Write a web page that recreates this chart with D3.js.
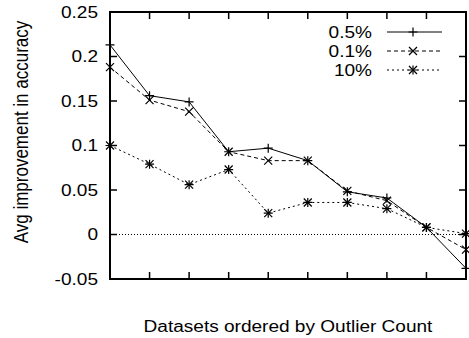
<!DOCTYPE html>
<html>
<head>
<meta charset="utf-8">
<script src="https://cdn.jsdelivr.net/npm/d3@7"></script>
<style>
body{margin:0;background:#fff;}
svg text{font-family:"Liberation Sans",Arial,sans-serif;fill:#000;}
</style>
</head>
<body>
<script>
// data
var datasets = [1,2,3,4,5,6,7,8,9,10];
var seriesNames = ['0.5%','0.1%','10%'];
var v05 = [0.213,0.156,0.149,0.093,0.097,0.083,0.048,0.041,0.008,-0.038];
var v01 = [0.188,0.151,0.138,0.093,0.083,0.083,0.049,0.038,0.008,-0.017];
var v10 = [0.100,0.079,0.056,0.073,0.024,0.036,0.036,0.029,0.008,0.001];
var yTicks = [-0.05,0,0.05,0.1,0.15,0.2,0.25];

var W = 469, H = 338;
var m = {left:110, right:3, top:12, bottom:59};
var sx = 1.19; // text looks stretched sideways in the original

var svg = d3.select('body').append('svg').attr('width',W).attr('height',H);

var x = d3.scaleLinear().domain([1,10]).range([m.left, W-m.right]);
var y = d3.scaleLinear().domain([-0.05,0.25]).range([H-m.bottom, m.top]);

function label(px, py, txt, anchor){
	return svg.append('text')
		.attr('transform','translate('+px+','+py+') scale('+sx+',1)')
		.attr('text-anchor',anchor)
		.attr('font-size',16)
		.text(txt);
}

//zero line
svg.append('line')
	.attr('x1',x(1)).attr('x2',x(10))
	.attr('y1',y(0)).attr('y2',y(0))
	.attr('stroke','#000').attr('stroke-width',1)
	.attr('stroke-dasharray','1,2');

//ticks, all inward
var tk = 7;
var g = svg.append('g');
yTicks.forEach(function(t){
	g.append('line').attr('x1',x(1)).attr('x2',x(1)+tk).attr('y1',y(t)).attr('y2',y(t));
	g.append('line').attr('x1',x(10)).attr('x2',x(10)-tk).attr('y1',y(t)).attr('y2',y(t));
	label(98, y(t), String(t), 'end').attr('dy','0.35em');
});
datasets.forEach(function(d){
	g.append('line').attr('x1',x(d)).attr('x2',x(d)).attr('y1',y(-0.05)).attr('y2',y(-0.05)-tk);
	g.append('line').attr('x1',x(d)).attr('x2',x(d)).attr('y1',y(0.25)).attr('y2',y(0.25)+tk);
});
g.selectAll('line').attr('stroke','#000').attr('stroke-width',1.5);

// markers
function plus(s,px,py){
	s.append('path').attr('d','M'+(px-4.5)+','+py+'h9M'+px+','+(py-4.5)+'v9');
}
function cross(s,px,py){
	s.append('path').attr('d','M'+(px-4)+','+(py-4)+'l8,8M'+(px-4)+','+(py+4)+'l8,-8');
}
function star(s,px,py){ plus(s,px,py); cross(s,px,py); }

var series = [
	{name:seriesNames[0], vals:v05, dash:null, mark:plus},
	{name:seriesNames[1], vals:v01, dash:'4,3', mark:cross},
	{name:seriesNames[2], vals:v10, dash:'2,3', mark:star}
];

var line = d3.line().x(function(d,i){return x(datasets[i]);}).y(function(d){return y(d);});

series.slice().reverse().forEach(function(s){
	svg.append('path')
		.attr('d',line(s.vals))
		.attr('fill','none')
		.attr('stroke','#000')
		.attr('stroke-width',1)
		.attr('stroke-dasharray',s.dash);
	var mg = svg.append('g').attr('stroke','#000').attr('stroke-width',1.2).attr('fill','none');
	s.vals.forEach(function(v,i){ s.mark(mg, x(datasets[i]), y(v)); });
});

//legend
var ly = [32,51,70];
series.forEach(function(s,i){
	label(372, ly[i], s.name, 'end').attr('dy','0.35em');
	svg.append('line')
		.attr('x1',387).attr('x2',442).attr('y1',ly[i]).attr('y2',ly[i])
		.attr('stroke','#000').attr('stroke-width',1)
		.attr('stroke-dasharray',s.dash);
	var mg = svg.append('g').attr('stroke','#000').attr('stroke-width',1.2).attr('fill','none');
	s.mark(mg, 413, ly[i]);
});

//frame
svg.append('rect')
	.attr('x',x(1)).attr('y',y(0.25))
	.attr('width',x(10)-x(1)).attr('height',y(-0.05)-y(0.25))
	.attr('fill','none').attr('stroke','#000').attr('stroke-width',2);

//axis titles
label(288, 332, 'Datasets ordered by Outlier Count', 'middle');

svg.append('text')
	.attr('transform','translate(28,132) scale('+sx+',1) rotate(-90)')
	.attr('text-anchor','middle')
	.attr('font-size',17)
	.text('Avg improvement in accuracy');
</script>
</body>
</html>
